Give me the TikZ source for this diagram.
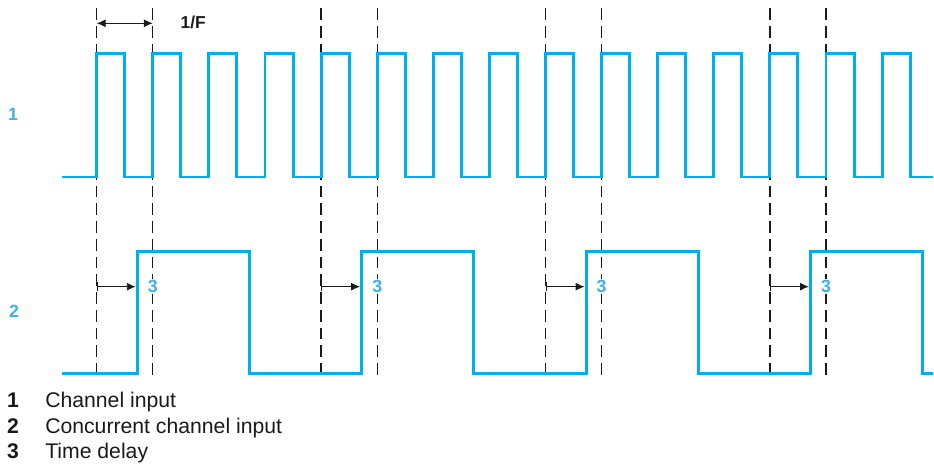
\documentclass[tikz,border=0pt]{standalone}
\usepackage{fontspec}
\setmainfont{Liberation Sans}
\usepackage{tikz}
\usetikzlibrary{arrows.meta}
\definecolor{sinyalMavi}{HTML}{00AEEF}
\definecolor{etiketMavi}{HTML}{3AB4E6}
\definecolor{koyuGri}{HTML}{1A1A1A}

\begin{document}
\begin{tikzpicture}[
  sinyal/.style={sinyalMavi,line width=3pt},
  kesik/.style={koyuGri,line width=1.4pt,dash pattern=on 12pt off 6pt},
  gecikme/.style={koyuGri,line width=0.9pt,{Bar[width=9pt]}-{Latex[length=9pt,width=8pt]}},
  periyot/.style={koyuGri,line width=0.9pt,{Latex[length=9pt,width=8pt]}-{Latex[length=9pt,width=8pt]}},
  etiket/.style={etiketMavi,font=\fontsize{18}{21}\selectfont\bfseries,inner sep=1pt},
  aciklama/.style={koyuGri,font=\fontsize{21.5}{25}\selectfont,inner sep=0pt,anchor=base west}]
\useasboundingbox (-3.447,-10.23) rectangle (29.85,6.31);
\foreach \x [count=\i] in {0,2,8,10,16,18,24,26}
  \draw[kesik] (\x,6.02) coordinate (ust\i) -- (\x,-7.24) coordinate (alt\i);
\draw[sinyal] (-1.24,0) \foreach \k in {0,...,14}{
  -- ({2*\k},0) -- ({2*\k},4.41) -- ({2*\k+1},4.41) -- ({2*\k+1},0)} -- (29.83,0);
\draw[sinyal] (-1.24,-7.02) \foreach \k in {0,...,3}{
  -- ({8*\k+1.45},-7.02) -- ({8*\k+1.45},-2.64) -- ({8*\k+5.45},-2.64) -- ({8*\k+5.45},-7.02)} -- (29.83,-7.02);
\coordinate (f0) at (0,5.48);
\coordinate (f1) at (2,5.48);
\draw[periyot] (f0) -- (f1);
\node[koyuGri,font=\fontsize{17.5}{20}\selectfont\bfseries] (frekans) at (3.44,5.51) {1/F};
\foreach \k in {0,...,3}{
  \coordinate (g\k) at ({8*\k},-3.91);
  \coordinate (c\k) at ({8*\k+1.39},-3.91);
  \draw[gecikme] (g\k) -- (c\k);
  \node[etiket,fill=white] (uc\k) at ({8*\k+2},-3.91) {3};
}
\node[etiket] (kanal1) at (-2.98,2.23) {1};
\node[etiket] (kanal2) at (-2.95,-4.78) {2};
\foreach \n/\t/\y in {1/Channel input/-8.22,2/Concurrent channel input/-9.14,3/Time delay/-10.03}{
  \node[aciklama,anchor=base,font=\fontsize{21.5}{25}\selectfont\bfseries] (no\n) at (-2.98,\y) {\n};
  \node[aciklama] (acik\n) at (-1.84,\y) {\t};
}
\end{tikzpicture}
\end{document}
